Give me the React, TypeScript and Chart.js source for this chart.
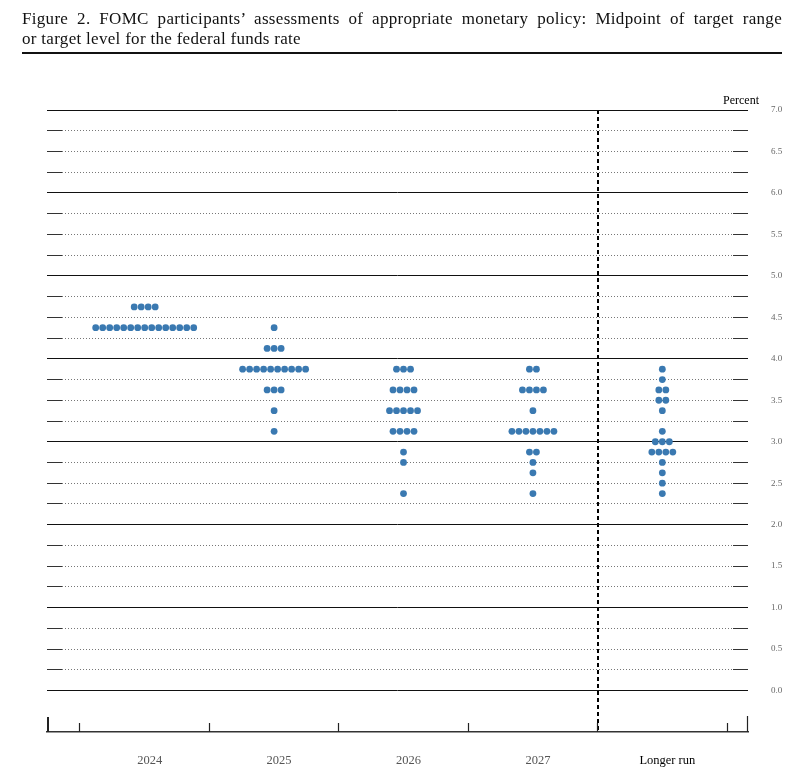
import React, { useEffect, useRef } from 'react';
import { Chart, registerables } from 'chart.js';

Chart.register(...registerables);

// ---- Data ----
const categories = ['2024', '2025', '2026', '2027', 'Longer run'];

const rates2024 = [4.625, 4.375];
const counts2024 = [4, 15];

const rates2025 = [4.375, 4.125, 3.875, 3.625, 3.375, 3.125];
const counts2025 = [1, 3, 10, 3, 1, 1];

const rates2026 = [3.875, 3.625, 3.375, 3.125, 2.875, 2.75, 2.375];
const counts2026 = [3, 4, 5, 4, 1, 1, 1];

const rates2027 = [3.875, 3.625, 3.375, 3.125, 2.875, 2.75, 2.625, 2.375];
const counts2027 = [2, 4, 1, 7, 2, 1, 1, 1];

const ratesLonger = [3.875, 3.75, 3.625, 3.5, 3.375, 3.125, 3.0, 2.875, 2.75, 2.625, 2.5, 2.375];
const countsLonger = [1, 1, 2, 2, 1, 1, 3, 4, 1, 1, 1, 1];

const yTickLabels = ['0.0', '0.5', '1.0', '1.5', '2.0', '2.5', '3.0', '3.5', '4.0', '4.5', '5.0', '5.5', '6.0', '6.5', '7.0'];
const xBoundaries = [-0.5, 0.5, 1.5, 2.5, 3.5, 4.5];
const dividerAt = [3.5];

const TITLE_1 = 'Figure 2.  FOMC participants\u2019 assessments of appropriate monetary policy:  Midpoint of target range';
const TITLE_2 = 'or target level for the federal funds rate';

const groups = [
  { rates: rates2024, counts: counts2024 },
  { rates: rates2025, counts: counts2025 },
  { rates: rates2026, counts: counts2026 },
  { rates: rates2027, counts: counts2027 },
  { rates: ratesLonger, counts: countsLonger },
];

const DOT_STEP = 0.0541; // horizontal spacing between stacked dots, in category units
const X_MIN = -0.755;
const X_MAX = 4.662;

const isInt = (v: number) => Math.abs(v - Math.round(v)) < 1e-6;
const isHalf = (v: number) => Math.abs(v * 2 - Math.round(v * 2)) < 1e-6;

const SERIF = '"Liberation Serif", "Times New Roman", serif';

const framePlugin = {
  id: 'frame',
  afterDraw(chart: any) {
    const { ctx, chartArea } = chart;
    const x = chart.scales.x;
    const y = chart.scales.y;
    const line = (x1: number, y1: number, x2: number, y2: number) => {
      ctx.beginPath();
      ctx.moveTo(x1, y1);
      ctx.lineTo(x2, y2);
      ctx.stroke();
    };
    const align = (p: number) => Math.round(p - 0.5) + 0.5;
    ctx.save();
    // short solid stubs at both ends of the dotted grid lines
    ctx.strokeStyle = '#333';
    ctx.lineWidth = 1;
    y.ticks.forEach((t: any) => {
      if (!isInt(t.value)) {
        const py = align(y.getPixelForValue(t.value));
        line(chartArea.left, py, chartArea.left + 15, py);
        line(chartArea.right - 15, py, chartArea.right, py);
      }
    });
    // bottom axis tick marks
    const base = chartArea.bottom;
    ctx.strokeStyle = '#222';
    ctx.lineWidth = 1.2;
    xBoundaries.forEach((v) => {
      const px = align(x.getPixelForValue(v));
      line(px, base - 9, px, base);
    });
    ctx.lineWidth = 2;
    line(chartArea.left + 1, base - 15, chartArea.left + 1, base);
    ctx.lineWidth = 1.2;
    line(chartArea.right - 0.5, base - 16, chartArea.right - 0.5, base);
    ctx.restore();
  },
};

export default function App() {
  const canvasRef = useRef<HTMLCanvasElement | null>(null);

  useEffect(() => {
    if (!canvasRef.current) return;
    const points: { x: number; y: number }[] = [];
    groups.forEach((g, ci) => {
      g.rates.forEach((r, k) => {
        const n = g.counts[k];
        for (let j = 0; j < n; j++) {
          points.push({ x: ci + (j - (n - 1) / 2) * DOT_STEP, y: r });
        }
      });
    });

    const chart = new Chart(canvasRef.current, {
      type: 'scatter',
      data: {
        datasets: [
          {
            data: points,
            pointRadius: 3.4,
            pointHoverRadius: 3.4,
            backgroundColor: '#3a79b1',
            borderWidth: 0,
          },
        ],
      },
      options: {
        responsive: false,
        animation: false,
        events: [],
        layout: { padding: { left: 47, top: 110, right: 0, bottom: 0 } },
        plugins: {
          legend: { display: false },
          tooltip: { enabled: false },
        },
        scales: {
          x: {
            type: 'linear',
            position: 'bottom',
            min: X_MIN,
            max: X_MAX,
            afterBuildTicks: (s: any) => {
              s.ticks = categories.map((_, i) => ({ value: i }));
            },
            afterFit: (s: any) => {
              s.height = 50;
            },
            grid: { display: false, drawOnChartArea: false, drawTicks: false },
            border: { display: true, color: '#333', width: 1.5 },
            ticks: {
              autoSkip: false,
              maxRotation: 0,
              padding: 21,
              labelOffset: 5,
              font: { family: SERIF, size: 12.5 },
              color: (c: any) => (c.index === 4 ? '#000' : '#555'),
              callback: (_v: any, i: number) => categories[i],
            },
          },
          x2: {
            type: 'linear',
            position: 'top',
            min: X_MIN,
            max: X_MAX,
            afterBuildTicks: (s: any) => {
              s.ticks = dividerAt.map((v) => ({ value: v }));
            },
            afterFit: (s: any) => {
              s.height = 0;
            },
            grid: { color: '#000', lineWidth: 2, drawTicks: false },
            border: { display: false, dash: [4, 3] },
            ticks: { display: false },
          },
          y: {
            type: 'linear',
            position: 'right',
            min: -0.5,
            max: 7,
            afterBuildTicks: (s: any) => {
              s.ticks = s.ticks.filter((t: any) => t.value >= -1e-6);
            },
            afterFit: (s: any) => {
              s.width = 54;
            },
            grid: {
              drawTicks: false,
              lineWidth: 1,
              color: (c: any) => (c.tick && isInt(c.tick.value) ? '#111' : '#777'),
            },
            border: {
              display: false,
              dash: (c: any) => (c.tick && !isInt(c.tick.value) ? [1, 2] : []),
            },
            ticks: {
              stepSize: 0.25,
              autoSkip: false,
              padding: 23,
              font: { family: SERIF, size: 9 },
              color: '#666',
              callback: (v: any) => {
                const n = Number(v);
                return isHalf(n) && n >= 0 ? yTickLabels[Math.round(n * 2)] : '';
              },
            },
          },
        },
      },
      plugins: [framePlugin],
    } as any);

    return () => chart.destroy();
  }, []);

  return (
    <div style={{ position: 'absolute', left: 0, top: 0, width: 802, height: 782, background: '#fff' }}>
      <canvas ref={canvasRef} width={802} height={782} style={{ position: 'absolute', left: 0, top: 0, width: 802, height: 782 }} />
      <div
        style={{
          position: 'absolute',
          left: 22,
          top: 9,
          width: 760,
          fontFamily: SERIF,
          fontSize: 17,
          lineHeight: '20px',
          letterSpacing: '0.3px',
          color: '#111',
        }}
      >
        <div style={{ textAlign: 'justify', textAlignLast: 'justify' } as any}>{TITLE_1}</div>
        <div>{TITLE_2}</div>
      </div>
      <div style={{ position: 'absolute', left: 22, top: 52, width: 760, height: 0, borderTop: '2px solid #111' }} />
      <div
        style={{
          position: 'absolute',
          right: 802 - 759,
          top: 92,
          fontFamily: SERIF,
          fontSize: 12,
          lineHeight: '16px',
          color: '#000',
        }}
      >
        Percent
      </div>
    </div>
  );
}
